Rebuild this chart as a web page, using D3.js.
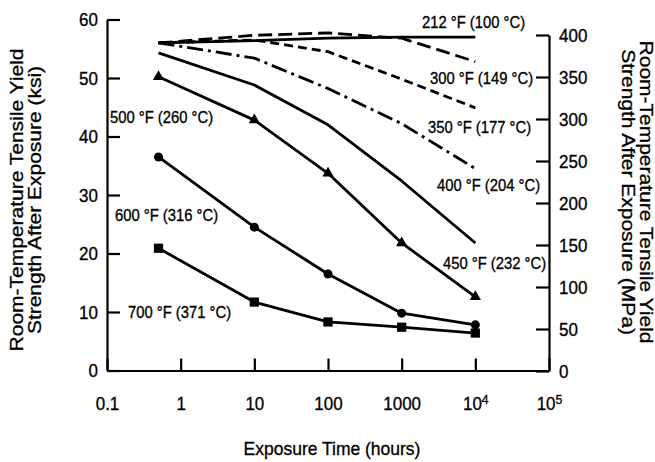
<!DOCTYPE html>
<html><head><meta charset="utf-8">
<script src="https://cdn.jsdelivr.net/npm/d3@7"></script>
<style>
html,body{margin:0;padding:0;background:#fff;}
svg{display:block;font-family:"Liberation Sans",Arial,Helvetica,sans-serif;}
svg text{stroke:#000;stroke-width:0.3px;}
</style></head><body>
<svg id="chart" width="655" height="462"></svg>
<script>
// ---- data ----
const hours = [0.5, 10, 100, 1000, 10000];
const seriesLabels = ["212 °F (100 °C)", "300 °F (149 °C)", "350 °F (177 °C)", "400 °F (204 °C)",
                      "450 °F (232 °C)", "500 °F (260 °C)", "600 °F (316 °C)", "700 °F (371 °C)"];
const ys212 = [56.0, 56.4, 56.8, 57.0, 57.0];
const ys300 = [56.0, 57.3, 57.7, 56.8, 52.8];
const ys350 = [56.0, 56.5, 54.5, 49.8, 44.9];
const ys400 = [56.0, 53.4, 48.2, 42.2, 34.5];
const ys450 = [54.3, 48.8, 42.0, 32.4, 21.8];
const ys500 = [50.2, 42.8, 33.7, 21.8, 12.6];
const ys600 = [36.5, 24.5, 16.5, 9.8, 7.8];
const ys700 = [20.9, 11.7, 8.3, 7.4, 6.4];
const xTickValues = [0.1, 1, 10, 100, 1000, 1e4, 1e5];
const ksiTicks = [0, 10, 20, 30, 40, 50, 60];
const mpaTicks = [0, 50, 100, 150, 200, 250, 300, 350, 400];
const xTitle = "Exposure Time (hours)";
const leftTitle = ["Room-Temperature Tensile Yield", "Strength After Exposure (ksi)"];
const rightTitle = ["Room-Temperature Tensile Yield", "Strength After Exposure (MPa)"];

// ---- styles / layout (kept separate from data) ----
const allValues = [ys212, ys300, ys350, ys400, ys450, ys500, ys600, ys700];
const dashes = [null, "14,6", "9,5", "16,5,3,5", null, null, null, null];
const markers = [null, null, null, null, null, "triangle", "circle", "square"];
// label anchor: [x pixel, y pixel of text center]
const labelPos = [[422, 22], [430, 78], [428, 127], [437, 185], [443, 263], [110, 117], [115, 215], [128, 312]];

const svg = d3.select("#chart");
const x = d3.scaleLog().domain([0.1, 1e5]).range([107, 549]);
const yK = d3.scaleLinear().domain([0, 60]).range([370.5, 19.5]);
const yM = d3.scaleLinear().domain([0, 400]).range([371, 35]);

const FS = 17, STR = 1.12;

// axes
const gB = svg.append("g").attr("transform", "translate(0,370.5)")
  .call(d3.axisBottom(x).tickValues(xTickValues).tickSizeInner(-12).tickSizeOuter(0).tickPadding(23)
    .tickFormat(d => d >= 1e4 ? "" : (d < 1 ? "0.1" : String(d))));
gB.selectAll(".tick text").each(function(d) {
  const t = d3.select(this);
  if (d >= 1e4) {
    t.text("10");
    t.append("tspan").attr("dy", "-0.45em").attr("font-size", "0.72em").text(String(Math.round(Math.log10(d))));
  }
});
const gL = svg.append("g").attr("transform", "translate(107,0)")
  .call(d3.axisLeft(yK).tickValues(ksiTicks).tickSizeInner(-13).tickSizeOuter(0).tickPadding(9));
const gR = svg.append("g").attr("transform", "translate(549,0)")
  .call(d3.axisRight(yM).tickValues(mpaTicks).tickSizeInner(-13).tickSizeOuter(0).tickPadding(10));

[gB, gL, gR].forEach(g => {
  g.select(".domain").attr("stroke", "#000").attr("stroke-width", 2.2);
  g.selectAll(".tick line").attr("stroke", "#000").attr("stroke-width", 2.2);
  g.selectAll(".tick text").attr("fill", "#000").attr("font-size", FS)
    .attr("font-family", "'Liberation Sans', Arial, sans-serif")
    .attr("transform", `scale(1,${STR})`);
});

// lines
const line = d3.line().x((d, i) => x(hours[i])).y(d => yK(d));
const plot = svg.append("g");
allValues.forEach((vals, k) => {
  plot.append("path").attr("d", line(vals)).attr("fill", "none").attr("stroke", "#000")
    .attr("stroke-width", 2.8).attr("stroke-linejoin", "round")
    .attr("stroke-dasharray", dashes[k]);
  if (markers[k]) {
    const type = markers[k] === "triangle" ? d3.symbolTriangle : markers[k] === "circle" ? d3.symbolCircle : d3.symbolSquare;
    const size = markers[k] === "triangle" ? 55 : markers[k] === "circle" ? 64 : 85;
    plot.selectAll(null).data(vals).enter().append("path")
      .attr("transform", (d, i) => `translate(${x(hours[i])},${yK(d)})`)
      .attr("d", d3.symbol().type(type).size(size)).attr("fill", "#000");
  }
});

// series labels
seriesLabels.forEach((s, k) => {
  svg.append("g").attr("transform", `translate(${labelPos[k][0]},${labelPos[k][1]})`)
    .append("text").attr("transform", `scale(1,${STR})`).attr("dy", "0.35em")
    .attr("font-size", 14.8).attr("fill", "#000").text(s);
});

// titles
svg.append("g").attr("transform", "translate(332,455)")
  .append("text").attr("transform", "scale(1,1.1)").attr("text-anchor", "middle")
  .attr("font-size", 17.5).attr("fill", "#000").text(xTitle);
leftTitle.forEach((t, i) => {
  svg.append("text").attr("transform", `translate(${23 + i * 18},200) rotate(-90) scale(1.2,1)`)
    .attr("text-anchor", "middle").attr("font-size", 17.5).attr("fill", "#000").text(t);
});
rightTitle.forEach((t, i) => {
  svg.append("text").attr("transform", `translate(${640 - i * 18},192) rotate(90) scale(1.2,1)`)
    .attr("text-anchor", "middle").attr("font-size", 17.5).attr("fill", "#000").text(t);
});
</script>
</body></html>
